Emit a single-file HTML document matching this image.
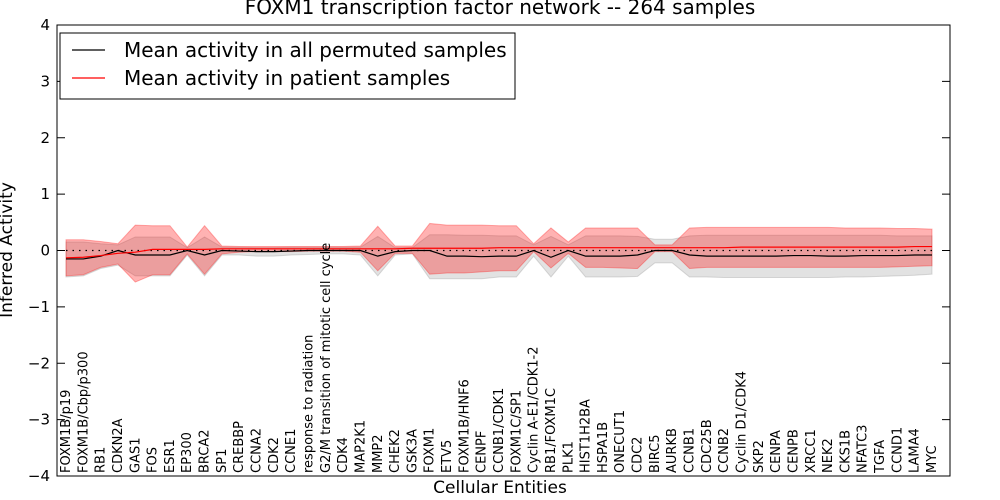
<!DOCTYPE html>
<html><head><meta charset="utf-8"><style>
body{margin:0;background:#fff}
svg{display:block;font-family:"DejaVu Sans","Liberation Sans",sans-serif}
</style></head><body>
<svg id="chart" width="1000" height="500" viewBox="0 0 1000 500">
<rect x="0" y="0" width="1000" height="500" fill="#fff"/>
<text x="500" y="14" text-anchor="middle" font-size="20">FOXM1 transcription factor network -- 264 samples</text>
<g id="bands"></g>
<g id="lines"></g>
<rect x="57" y="25" width="893" height="451" fill="none" stroke="#000" stroke-width="1"/>
<g id="yaxis" font-size="15"></g>
<g id="xlabels" font-size="13"></g>
<text x="500" y="493" text-anchor="middle" font-size="17">Cellular Entities</text>
<text transform="translate(12,250) rotate(-90)" text-anchor="middle" font-size="17">Inferred Activity</text>
<g>
<rect x="60" y="33" width="455" height="66" fill="#fff" stroke="#000" stroke-width="1"/>
<g>
<line x1="72" y1="50" x2="105" y2="50" stroke="#000" stroke-width="1.3"/>
<text x="124" y="57" font-size="20">Mean activity in all permuted samples</text></g>
<g>
<line x1="72" y1="78" x2="105" y2="78" stroke="#f00" stroke-width="1.3"/>
<text x="124" y="85" font-size="20">Mean activity in patient samples</text></g>
</g>
</svg>
<script>
const categories=["FOXM1B/p19","FOXM1B/Cbp/p300","RB1","CDKN2A","GAS1","FOS","ESR1","EP300","BRCA2","SP1","CREBBP","CCNA2","CDK2","CCNE1","response to radiation","G2/M transition of mitotic cell cycle","CDK4","MAP2K1","MMP2","CHEK2","GSK3A","FOXM1","ETV5","FOXM1B/HNF6","CENPF","CCNB1/CDK1","FOXM1C/SP1","Cyclin A-E1/CDK1-2","RB1/FOXM1C","PLK1","HIST1H2BA","HSPA1B","ONECUT1","CDC2","BIRC5","AURKB","CCNB1","CDC25B","CCNB2","Cyclin D1/CDK4","SKP2","CENPA","CENPB","XRCC1","NEK2","CKS1B","NFATC3","TGFA","CCND1","LAMA4","MYC"];
const permMean=[-0.15,-0.15,-0.1,0,-0.08,-0.08,-0.08,0,-0.08,0,-0.01,-0.02,-0.02,-0.01,0,0,0,0,-0.1,-0.02,0,0,-0.1,-0.1,-0.11,-0.1,-0.1,0,-0.12,0,-0.1,-0.1,-0.1,-0.08,0,0,-0.08,-0.1,-0.1,-0.1,-0.1,-0.1,-0.09,-0.09,-0.1,-0.1,-0.09,-0.09,-0.09,-0.08,-0.08];
const permLo=[-0.47,-0.45,-0.32,-0.26,-0.45,-0.45,-0.45,-0.08,-0.45,-0.08,-0.08,-0.1,-0.1,-0.08,-0.07,-0.06,-0.06,-0.08,-0.45,-0.08,-0.06,-0.5,-0.5,-0.5,-0.5,-0.47,-0.47,-0.1,-0.47,-0.1,-0.47,-0.47,-0.47,-0.46,-0.22,-0.22,-0.47,-0.47,-0.48,-0.48,-0.48,-0.48,-0.48,-0.48,-0.48,-0.47,-0.47,-0.46,-0.45,-0.44,-0.42];
const permHi=[0.15,0.15,0.12,0.1,0.24,0.24,0.24,0.05,0.24,0.06,0.06,0.05,0.05,0.06,0.06,0.06,0.06,0.06,0.25,0.05,0.05,0.28,0.28,0.27,0.27,0.26,0.26,0.1,0.25,0.1,0.26,0.26,0.26,0.25,0.2,0.2,0.26,0.27,0.27,0.27,0.27,0.27,0.27,0.27,0.27,0.27,0.27,0.27,0.26,0.26,0.26];
const patMean=[-0.13,-0.12,-0.09,-0.05,-0.03,0.02,0.02,0.02,0.02,0.03,0.03,0.03,0.03,0.03,0.03,0.03,0.03,0.03,0.03,0.03,0.04,0.04,0.04,0.04,0.04,0.05,0.05,0.05,0.05,0.05,0.05,0.05,0.05,0.05,0.05,0.05,0.05,0.05,0.05,0.06,0.06,0.06,0.06,0.06,0.06,0.06,0.06,0.06,0.06,0.07,0.07];
const patLo=[-0.45,-0.43,-0.3,-0.24,-0.56,-0.43,-0.43,-0.06,-0.42,-0.06,-0.03,-0.02,-0.02,-0.02,-0.01,-0.01,-0.01,-0.03,-0.36,-0.05,-0.05,-0.42,-0.4,-0.4,-0.38,-0.36,-0.36,-0.02,-0.31,-0.05,-0.3,-0.3,-0.31,-0.32,-0.02,-0.02,-0.32,-0.3,-0.3,-0.3,-0.3,-0.3,-0.3,-0.3,-0.3,-0.3,-0.3,-0.3,-0.29,-0.28,-0.27];
const patHi=[0.19,0.19,0.16,0.12,0.45,0.44,0.44,0.06,0.44,0.08,0.07,0.07,0.07,0.07,0.07,0.07,0.07,0.08,0.43,0.08,0.08,0.48,0.45,0.45,0.45,0.44,0.44,0.12,0.4,0.15,0.4,0.4,0.4,0.4,0.1,0.1,0.4,0.41,0.41,0.41,0.41,0.41,0.41,0.41,0.41,0.4,0.4,0.4,0.39,0.39,0.38];
const yTicks=[4,3,2,1,0,-1,-2,-3,-4];

const NS="http://www.w3.org/2000/svg";
const X0=66,X1=932,Y_TOP=25,Y_BOT=476,VMAX=4,VMIN=-4;
function xs(i){return X0+i*(X1-X0)/(categories.length-1);}
function ys(v){return Y_TOP+(VMAX-v)*(Y_BOT-Y_TOP)/(VMAX-VMIN);}
function mk(tag,attrs,parent){const e=document.createElementNS(NS,tag);for(const k in attrs)e.setAttribute(k,attrs[k]);parent.appendChild(e);return e;}
function band(lo,hi){let d="";hi.forEach((v,i)=>{d+=(i?"L":"M")+xs(i)+","+ys(v);});for(let i=lo.length-1;i>=0;i--)d+="L"+xs(i)+","+ys(lo[i]);return d+"Z";}
function line(arr){return arr.map((v,i)=>(i?"L":"M")+xs(i)+","+ys(v)).join("");}

const bands=document.getElementById("bands");
const gb=mk("path",{d:band(permLo,permHi),fill:"rgba(140,140,140,0.25)",stroke:"rgba(140,140,140,0.3)"},bands);


const rb=mk("path",{d:band(patLo,patHi),fill:"rgba(255,0,0,0.3)",stroke:"rgba(255,0,0,0.3)"},bands);



const lines=document.getElementById("lines");
const zl=mk("line",{x1:X0,x2:X1,y1:ys(0),y2:ys(0),stroke:"#000","stroke-dasharray":"1.5,5","stroke-width":1.2},lines);


const bl=mk("path",{d:line(permMean),fill:"none",stroke:"#000","stroke-width":1.2},lines);


const rl=mk("path",{d:line(patMean),fill:"none",stroke:"#f00","stroke-width":1.2},lines);



const ya=document.getElementById("yaxis");
yTicks.forEach(t=>{
  const y=ys(t);
  mk("line",{x1:57,x2:65,y1:y,y2:y,stroke:"#000"},ya);
  mk("line",{x1:942,x2:950,y1:y,y2:y,stroke:"#000"},ya);
  const tx=mk("text",{x:50,y:y+5,"text-anchor":"end"},ya);
  tx.textContent=t<0?"\u2212"+Math.abs(t):String(t);
  
  
});

const xl=document.getElementById("xlabels");
categories.forEach((c,i)=>{
  const x=xs(i)+4;
  const t=mk("text",{transform:"translate("+x+",473) rotate(-90)"},xl);
  t.textContent=c;
  
  
});
</script>
</body></html>
